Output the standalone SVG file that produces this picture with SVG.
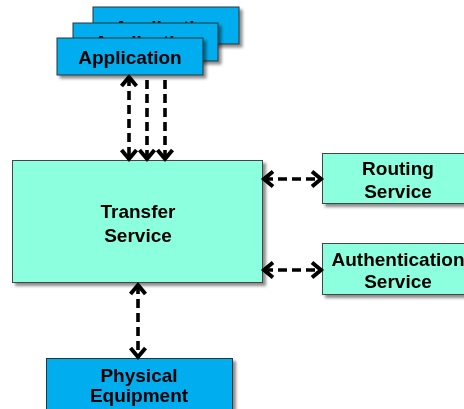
<svg xmlns="http://www.w3.org/2000/svg" width="464" height="409" viewBox="0 0 464 409">
<style>
.blue{fill:#00AEEF;stroke:#333;stroke-width:1}
.aqua{fill:#8CFFDE;stroke:#444;stroke-width:1}
.t{font-family:"Liberation Sans",Arial,sans-serif;font-weight:bold;font-size:19px;fill:#000;text-anchor:middle}
.c{fill:none;stroke:#000;stroke-width:3.6;stroke-dasharray:9 5}
</style>
<defs>
<filter id="sh" x="-10%" y="-10%" width="130%" height="140%">
<feDropShadow dx="3" dy="3" stdDeviation="1.5" flood-color="#000" flood-opacity="0.45"/>
</filter>
<marker id="ah" markerUnits="userSpaceOnUse" markerWidth="16" markerHeight="20" viewBox="0 0 16 20" refX="12" refY="10" orient="auto-start-reverse">
<path d="M3,2.5 L12,10 L3,17.5" fill="none" stroke="#000" stroke-width="4" stroke-linejoin="miter"/>
</marker>
</defs>
<g id="app3" filter="url(#sh)">
<rect class="blue" x="93" y="7" width="146" height="37"/>
<text class="t" x="166" y="34">Application</text>
</g>
<g id="app2" filter="url(#sh)">
<rect class="blue" x="73" y="23" width="145" height="38"/>
<text class="t" x="146" y="49">Application</text>
</g>
<g id="app1" filter="url(#sh)">
<rect class="blue" x="57" y="38" width="146" height="37"/>
<text class="t" x="130" y="64">Application</text>
</g>
<g id="transfer" filter="url(#sh)">
<rect class="aqua" x="12.5" y="160.5" width="250" height="122"/>
<text class="t" x="138" y="218">Transfer</text>
<text class="t" x="138" y="242">Service</text>
</g>
<g id="routing" filter="url(#sh)">
<rect class="aqua" x="322.5" y="153.5" width="150" height="50"/>
<text class="t" x="398" y="175">Routing</text>
<text class="t" x="398" y="198">Service</text>
</g>
<g id="auth" filter="url(#sh)">
<rect class="aqua" x="322.5" y="243.5" width="150" height="51"/>
<text class="t" x="398" y="266">Authentication</text>
<text class="t" x="398" y="288">Service</text>
</g>
<g id="physical" filter="url(#sh)">
<rect class="blue" x="46.5" y="358.5" width="186" height="60"/>
<text class="t" x="139" y="382">Physical</text>
<text class="t" x="139" y="402">Equipment</text>
</g>
<g id="connectors">
<line class="c" x1="129" y1="77" x2="129" y2="159" marker-start="url(#ah)" marker-end="url(#ah)"/>
<line class="c" x1="147" y1="80" x2="147" y2="159" marker-end="url(#ah)"/>
<line class="c" x1="165" y1="80" x2="165" y2="159" marker-end="url(#ah)"/>
<line class="c" x1="264" y1="179" x2="321" y2="179" marker-start="url(#ah)" marker-end="url(#ah)"/>
<line class="c" x1="264" y1="270" x2="321" y2="270" marker-start="url(#ah)" marker-end="url(#ah)"/>
<line class="c" x1="138" y1="285" x2="138" y2="357" marker-start="url(#ah)" marker-end="url(#ah)"/>
</g>
</svg>
